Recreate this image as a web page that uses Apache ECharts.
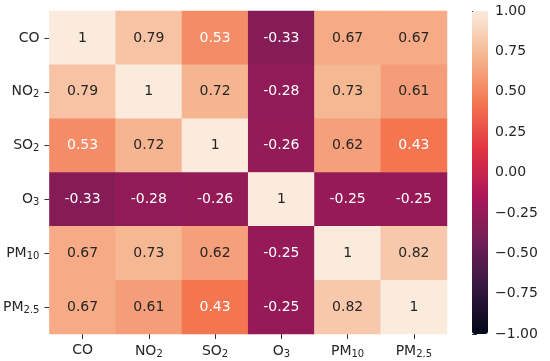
<!DOCTYPE html>
<html>
<head>
<meta charset="utf-8">
<script src="https://cdn.jsdelivr.net/npm/echarts@6/dist/echarts.min.js"></script>
<style>html,body{margin:0;padding:0;background:#fff}#c{width:550px;height:361px}</style>
</head>
<body>
<div id="c"></div>
<script>
// Variables (base text + subscript)
const baseNames = ['CO', 'NO', 'SO', 'O', 'PM', 'PM'];
const subNames  = ['', '2', '2', '3', '10', '2.5'];
// Correlation matrix rows (same order as variables)
const rowCO   = [1, 0.79, 0.53, -0.33, 0.67, 0.67];
const rowNO2  = [0.79, 1, 0.72, -0.28, 0.73, 0.61];
const rowSO2  = [0.53, 0.72, 1, -0.26, 0.62, 0.43];
const rowO3   = [-0.33, -0.28, -0.26, 1, -0.25, -0.25];
const rowPM10 = [0.67, 0.73, 0.62, -0.25, 1, 0.82];
const rowPM25 = [0.67, 0.61, 0.43, -0.25, 0.82, 1];
const rows = [rowCO, rowNO2, rowSO2, rowO3, rowPM10, rowPM25];
// Colorbar
const cbMin = -1, cbMax = 1, cbStep = 0.25;
// rocket colormap stops (evenly spaced)
const rocket = ['#03051a', '#35193e', '#701f57', '#ad1759', '#e13342', '#f37651', '#f6b48f', '#faebdd'];

const cats = baseNames.map((b, i) => b + subNames[i]);
const data = [];
rows.forEach((r, yi) => r.forEach((v, xi) => {
  data.push({ value: [xi, yi, v], label: { color: v < 0.58 ? '#ffffff' : '#262626' } });
}));

const textColor = '#262626';
const font = 'DejaVu Sans';
function fmtCat(val) {
  const i = cats.indexOf(val);
  return subNames[i] ? '{n|' + baseNames[i] + '}{s|' + subNames[i] + '}' : '{n|' + baseNames[i] + '}';
}
const rich = {
  n: { fontSize: 14, fontFamily: font, color: textColor },
  s: { fontSize: 10, fontFamily: font, color: textColor, padding: [6, 0, 0, 0] }
};

const chart = echarts.init(document.getElementById('c'), null, { renderer: 'canvas' });
chart.setOption({
  animation: false,
  backgroundColor: '#ffffff',
  grid: [
    { left: 48, top: 11, width: 399, height: 323 },
    { left: 472, top: 11, width: 16, height: 323 }
  ],
  xAxis: [
    { type: 'category', data: cats, gridIndex: 0, position: 'bottom',
      axisLine: { show: false }, splitLine: { show: false },
      axisTick: { show: true, alignWithLabel: true, interval: 0, length: 5, lineStyle: { color: '#333' } },
      axisLabel: { formatter: fmtCat, rich: rich, margin: 9, interval: 0 } },
    { type: 'value', gridIndex: 1, show: false, min: 0, max: 1 }
  ],
  yAxis: [
    { type: 'category', data: cats, gridIndex: 0, inverse: true,
      axisLine: { show: false }, splitLine: { show: false },
      axisTick: { show: true, alignWithLabel: true, interval: 0, length: 5, lineStyle: { color: '#333' } },
      axisLabel: { formatter: fmtCat, rich: rich, margin: 10, interval: 0 } },
    { type: 'value', gridIndex: 1, position: 'right', min: cbMin, max: cbMax, interval: cbStep,
      axisLine: { show: false }, splitLine: { show: false },
      axisTick: { show: true, length: 5, lineStyle: { color: '#333' } },
      axisLabel: { margin: 7, fontSize: 14, fontFamily: font, color: textColor,
        formatter: v => (v < 0 ? '\u2212' : '') + Math.abs(v).toFixed(2) } }
  ],
  visualMap: {
    type: 'continuous', min: cbMin, max: cbMax, seriesIndex: 0,
    calculable: false, orient: 'vertical', left: 472, top: 11, padding: 0,
    itemWidth: 16, itemHeight: 323, text: null, showLabel: false,
    inRange: { color: rocket }
  },
  series: [{
    type: 'heatmap', xAxisIndex: 0, yAxisIndex: 0, data: data,
    label: { show: true, fontSize: 14, fontFamily: font, formatter: p => String(p.value[2]) },
    itemStyle: { borderWidth: 0 },
    emphasis: { disabled: true }
  }]
});
</script>
</body>
</html>
